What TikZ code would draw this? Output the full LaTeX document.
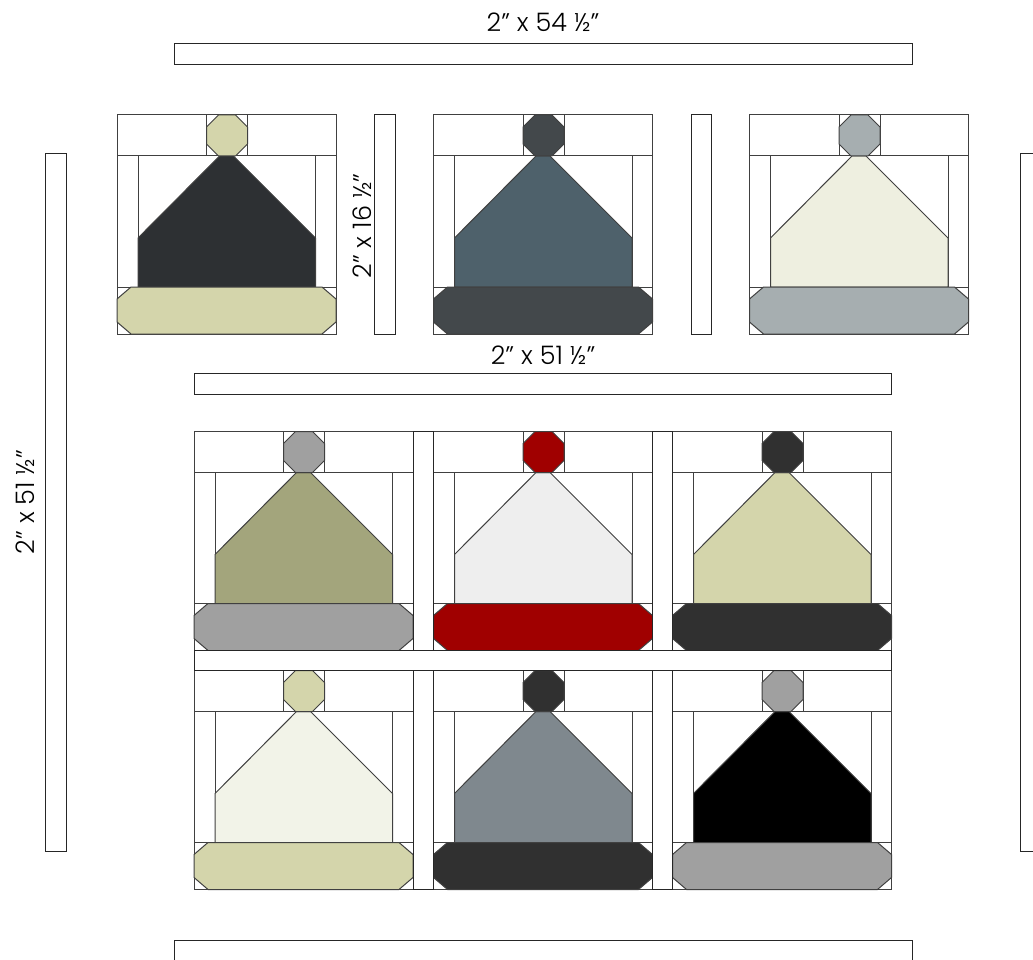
\documentclass[tikz,border=0pt]{standalone}
\usepackage{fontspec}
\setmainfont{Poppins Light}
\definecolor{sage}{HTML}{D4D5AB}
\definecolor{charcoal}{HTML}{2D3033}
\definecolor{slate}{HTML}{43484B}
\definecolor{steel}{HTML}{4E616B}
\definecolor{mist}{HTML}{A6AEB0}
\definecolor{cream}{HTML}{EEEFE0}
\definecolor{midgray}{HTML}{A0A0A0}
\definecolor{olive}{HTML}{A3A57C}
\definecolor{capred}{HTML}{A00000}
\definecolor{snow}{HTML}{EEEEEE}
\definecolor{coal}{HTML}{303030}
\definecolor{ivory}{HTML}{F2F3E8}
\definecolor{pewter}{HTML}{7F888E}
\tikzset{
  seam/.style={line width=1pt,draw=black!75},
  strip/.style={line width=1pt,draw=black!85,fill=white},
  sizelabel/.style={font=\fontsize{25.5}{30}\selectfont,inner sep=0pt},
}
% one hat block: hat colour, pompom/band colour
\newcommand{\hatblock}[4]{%
  \begin{scope}[shift={(#1,#2)}]
    \draw[seam,fill=white] (0,0) rectangle (219,219);
    \draw[seam] (0,41)--(219,41);
    \draw[seam] (89.5,0)--(89.5,41);
    \draw[seam] (130.5,0)--(130.5,41);
    \draw[seam] (21,41)--(21,172);
    \draw[seam] (198.5,41)--(198.5,172);
    \draw[seam] (0,172)--(219,172);
    \draw[seam,fill=#3] (102.5,41)--(116.5,41)--(198.5,123)--(198.5,172)--(21,172)--(21,123)--cycle;
    \draw[seam,fill=#4] (101.5,0)--(118.5,0)--(130.5,12)--(130.5,29)--(118.5,41)--(101.5,41)--(89.5,29)--(89.5,12)--cycle;
    \draw[seam,fill=#4] (14,172)--(205,172)--(219,184)--(219,207)--(205,219)--(14,219)--(0,207)--(0,184)--cycle;
  \end{scope}}
\begin{document}
\begin{tikzpicture}[x=1pt,y=-1pt]
    \useasboundingbox (0,0) rectangle (1033,960);
    \clip (0,0) rectangle (1033,960);

    % top row
    \hatblock{117}{115}{charcoal}{sage}
    \hatblock{433.5}{115}{steel}{slate}
    \hatblock{749.5}{115}{cream}{mist}

    % lower rows
    \hatblock{194}{431.5}{olive}{midgray}
    \hatblock{433.5}{431.5}{snow}{capred}
    \hatblock{672.5}{431.5}{sage}{coal}
    \hatblock{194}{670.5}{ivory}{sage}
    \hatblock{433.5}{670.5}{pewter}{coal}
    \hatblock{672.5}{670.5}{black}{midgray}

    % sashing
    \draw[strip] (174,43.5) rectangle (912,64.5);
    \draw[strip] (194,373) rectangle (891.5,394);
    \draw[strip] (374.5,115) rectangle (395,334);
    \draw[strip] (691,115) rectangle (711.5,334);
    \draw[strip] (45.5,154) rectangle (66,851);
    \draw[strip] (1020,154) rectangle (1060,851);
    \draw[strip] (174,940) rectangle (912,980);
    \draw[strip] (194,650.5) rectangle (891.5,670.5);
    \foreach \x in {413,652.5} {
        \draw[strip] (\x,431.5) rectangle (\x+20,650.5);
        \draw[strip] (\x,670.5) rectangle (\x+20,889.5);
    }

    \node[sizelabel] (toplabel) at (543,22) {2" x 54 ½"};
    \node[sizelabel] (midlabel) at (543,355) {2" x 51 ½"};
    \node[sizelabel,rotate=90] (shortlabel) at (362,226) {2" x 16 ½"};
    \node[sizelabel,rotate=90] (sidelabel) at (25,502) {2" x 51 ½"};
\end{tikzpicture}
\end{document}
